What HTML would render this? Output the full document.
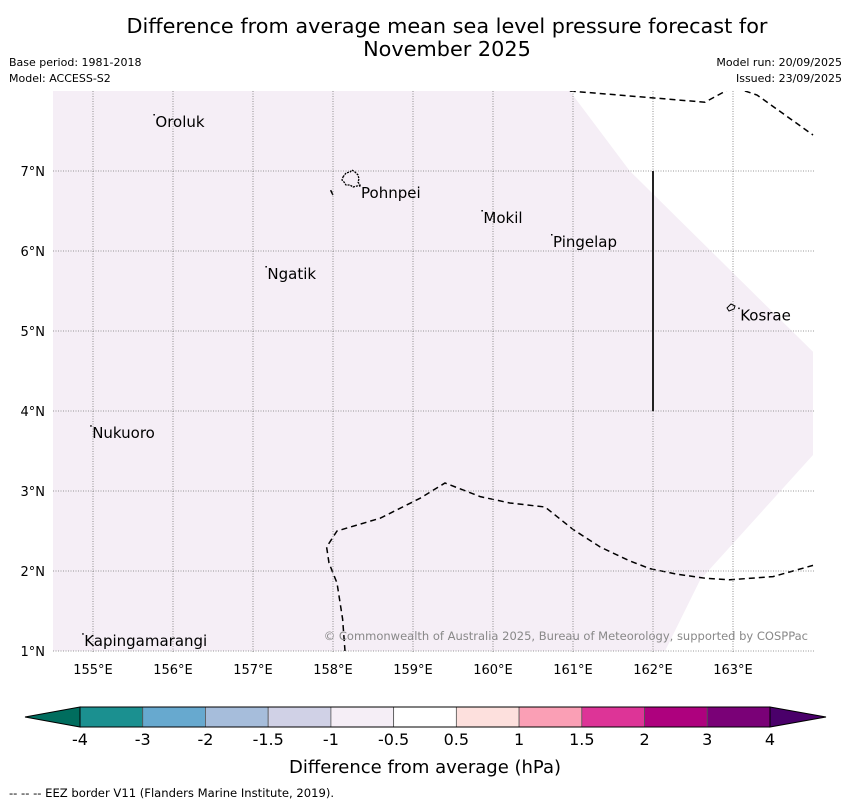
<!DOCTYPE html>
<html><head><meta charset="utf-8"><style>
body{margin:0;background:#fff;font-family:"Liberation Sans","DejaVu Sans",sans-serif}
</style></head><body>
<svg width="850" height="804" viewBox="0 0 850 804" xmlns="http://www.w3.org/2000/svg" font-family="DejaVu Sans, Liberation Sans, sans-serif">
<defs><clipPath id="mc"><rect x="53" y="91" width="762" height="562"/></clipPath></defs>
<text x="447" y="33" font-size="20.8" text-anchor="middle">Difference from average mean sea level pressure forecast for</text>
<text x="447" y="56" font-size="20.8" text-anchor="middle">November 2025</text>
<text x="9" y="66" font-size="11">Base period: 1981-2018</text>
<text x="9" y="82" font-size="11">Model: ACCESS-S2</text>
<text x="842" y="66" font-size="11" text-anchor="end">Model run: 20/09/2025</text>
<text x="842" y="82" font-size="11" text-anchor="end">Issued: 23/09/2025</text>
<g id="map"></g>
<g id="cbar"></g>
<text x="425" y="773" font-size="18" text-anchor="middle">Difference from average (hPa)</text>
<text x="9" y="797" font-size="11.6">--  --  -- EEZ border V11 (Flanders Marine Institute, 2019).</text>
</svg>
<script>
const NS="http://www.w3.org/2000/svg";
const lonTicks=[155,156,157,158,159,160,161,162,163];
const latTicks=[1,2,3,4,5,6,7];
const places=["Oroluk","Pohnpei","Mokil","Pingelap","Ngatik","Kosrae","Nukuoro","Kapingamarangi"];
const placeLon=[155.78,158.35,159.88,160.75,157.18,163.09,154.99,154.89];
const placeLat=[7.55,6.66,6.35,6.05,5.65,5.13,3.66,1.06];
const shadeLon=[154.5,160.96,161.71,164,164,162.59,162.15,154.5];
const shadeLat=[8,8,7.0,4.74,3.45,1.89,1,1];
const eez1Lon=[158.15,158.12,158.05,157.95,157.92,158.05,158.59,159.09,159.4,159.84,160.21,160.65,161.0,161.34,161.7,161.96,162.3,162.65,162.96,163.5,164];
const eez1Lat=[1.0,1.4,1.85,2.1,2.3,2.5,2.66,2.91,3.1,2.93,2.85,2.8,2.52,2.3,2.13,2.03,1.96,1.91,1.89,1.93,2.07];
const eez1bLon=[158.0,157.97];
const eez1bLat=[6.7,6.76];
const eez2Lon=[160.96,162.65,163.0,163.3,164];
const eez2Lat=[8,7.86,8.05,7.95,7.45];
const cbLevels=["-4","-3","-2","-1.5","-1","-0.5","0.5","1","1.5","2","3","4"];
const cbColors=["#1b9090","#67a9cf","#a6bddb","#d0d1e6","#f5eef6","#ffffff","#fde0dd","#fa9fb5","#dd3497","#ae017e","#7a0177"];
const X=lon=>53+(lon-154.5)*80, Y=lat=>91+(8-lat)*80;
function el(t,a,p){const e=document.createElementNS(NS,t);for(const k in a)e.setAttribute(k,a[k]);p.appendChild(e);return e;}
const map=document.getElementById('map');
const clipG=el('g',{"clip-path":"url(#mc)"},map);
let pts=shadeLon.map((l,i)=>X(l)+","+Y(shadeLat[i])).join(" ");
const sh=el('polygon',{points:pts,fill:"#f5eef6"},clipG);


lonTicks.forEach(l=>{const g=el('line',{x1:X(l),x2:X(l),y1:91,y2:653,stroke:"#777","stroke-width":0.8,"stroke-dasharray":"1,1.5"},map);


const t=el('text',{x:X(l),y:674,"font-size":13,"text-anchor":"middle"},map);t.textContent=l+"°E";

});
latTicks.forEach(l=>{const g=el('line',{x1:53,x2:815,y1:Y(l),y2:Y(l),stroke:"#777","stroke-width":0.8,"stroke-dasharray":"1,1.5"},map);


const t=el('text',{x:45,y:Y(l)+5,"font-size":13,"text-anchor":"end"},map);t.textContent=l+"°N";

});
function dash(lo,la,name){const p=el('polyline',{points:lo.map((l,i)=>X(l)+","+Y(la[i])).join(" "),fill:"none",stroke:"#000","stroke-width":1.5,"stroke-dasharray":"6,4"},clipG);

}
dash(eez1Lon,eez1Lat,'eez-border-south');dash(eez1bLon,eez1bLat,'eez-border-fragment');dash(eez2Lon,eez2Lat,'eez-border-north');
const v=el('line',{x1:X(162),x2:X(162),y1:Y(7),y2:Y(4),stroke:"#222","stroke-width":2},map);


const p1=el('path',{d:"M343,177 l3,-4 l4,-1 l2,-2 l3,2 l3,3 l1,4 l-1,3 l2,3 l-3,1 l-4,1 l-3,-2 l-4,0 l-2,-3 l-2,-2z",fill:"none",stroke:"#000","stroke-width":1.3,"stroke-dasharray":"2,1"},map);


const p2=el('path',{d:"M727,308 l4,-4 l4,2 l-1,3 l-5,2z",fill:"none",stroke:"#000","stroke-width":1},map);


places.forEach((n,i)=>{const t=el('text',{x:X(placeLon[i]),y:Y(placeLat[i]),"font-size":15},map);t.textContent=n;


const d=el('rect',{x:X(placeLon[i])-2,y:Y(placeLat[i])-13,width:1.5,height:1.5,fill:"#000"},map);

});
const c=el('text',{x:808,y:640,"font-size":11.5,"text-anchor":"end",fill:"#888"},map);c.textContent="© Commonwealth of Australia 2025, Bureau of Meteorology, supported by COSPPac";


const cb=document.getElementById('cbar');
const cx0=80,cx1=770,cy=707,ch=20,sw=(cx1-cx0)/cbColors.length;
const le=el('polygon',{points:`${cx0},${cy} 25,${cy+ch/2} ${cx0},${cy+ch}`,fill:"#006d5e",stroke:"#000","stroke-width":1},cb);


const re=el('polygon',{points:`${cx1},${cy} 826,${cy+ch/2} ${cx1},${cy+ch}`,fill:"#4a006a",stroke:"#000","stroke-width":1},cb);


cbColors.forEach((col,i)=>{const r=el('rect',{x:cx0+i*sw,y:cy,width:sw,height:ch,fill:col,stroke:"#555","stroke-width":0.8},cb);

});
el('rect',{x:cx0,y:cy,width:cx1-cx0,height:ch,fill:"none",stroke:"#000","stroke-width":1},cb);
cbLevels.forEach((l,i)=>{const t=el('text',{x:cx0+i*sw,y:745,"font-size":16,"text-anchor":"middle"},cb);t.textContent=l;

});
</script>
</body></html>
